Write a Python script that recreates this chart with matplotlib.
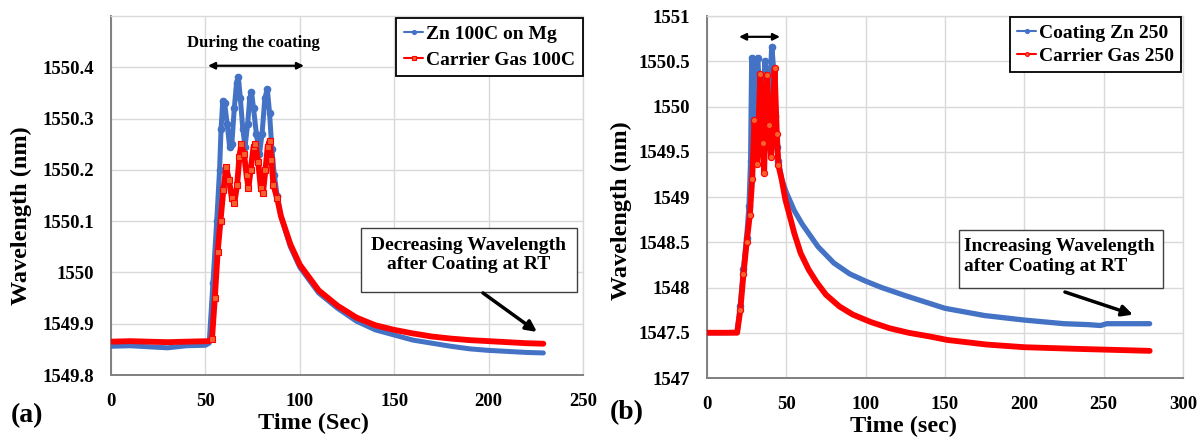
import matplotlib
matplotlib.use("Agg")
import matplotlib.pyplot as plt
from matplotlib.patches import Rectangle
from matplotlib.ticker import FuncFormatter

plt.rcParams['font.family'] = ['Liberation Serif', 'DejaVu Serif']
plt.rcParams['font.weight'] = 'bold'

# ---------------- Panel (a) data ----------------
a_blue_t = [0, 10, 20, 30, 40, 50, 52, 54, 56, 57.5, 58.3, 59.2, 60.2, 61.5, 62.8, 64, 65.3, 66.5,
            67.4, 68.5, 69.8, 71, 72.4, 73.5, 74.4, 75.5, 77, 78.6, 80, 81.5, 82.8, 84, 85.2, 86.5,
            88, 90, 95, 100, 110, 120, 130, 140, 150, 160, 170, 180, 190, 200, 210, 220, 229]
a_blue_w = [1549.856, 1549.857, 1549.855, 1549.853, 1549.857, 1549.858, 1549.862, 1549.98, 1550.10,
            1550.20, 1550.28, 1550.335, 1550.33, 1550.29, 1550.245, 1550.25, 1550.32, 1550.37,
            1550.382, 1550.34, 1550.28, 1550.245, 1550.29, 1550.34, 1550.352, 1550.32, 1550.27,
            1550.23, 1550.27, 1550.34, 1550.358, 1550.31, 1550.24, 1550.19, 1550.15, 1550.11,
            1550.05, 1550.01, 1549.96, 1549.93, 1549.905, 1549.888, 1549.878, 1549.868, 1549.862,
            1549.856, 1549.851, 1549.848, 1549.846, 1549.844, 1549.843]

a_red_t = [0, 10, 20, 30, 40, 52, 53.5, 55, 56.5, 58, 59.5, 61, 62.5, 64, 65.3, 66.8, 68, 69, 70.5,
           71.8, 72.8, 74, 75.5, 76.5, 78, 79.3, 80.5, 81.8, 83, 84, 85, 86, 88, 90, 95, 100, 110,
           120, 130, 140, 150, 160, 170, 180, 190, 200, 210, 220, 229]
a_red_w = [1549.865, 1549.866, 1549.865, 1549.864, 1549.865, 1549.866, 1549.87, 1549.95, 1550.04,
           1550.10, 1550.16, 1550.205, 1550.18, 1550.145, 1550.135, 1550.17, 1550.225, 1550.25,
           1550.23, 1550.19, 1550.165, 1550.20, 1550.245, 1550.25, 1550.215, 1550.165, 1550.155,
           1550.20, 1550.245, 1550.256, 1550.22, 1550.17, 1550.145, 1550.11, 1550.055, 1550.015,
           1549.965, 1549.935, 1549.912, 1549.897, 1549.888, 1549.881, 1549.875, 1549.871,
           1549.868, 1549.866, 1549.864, 1549.862, 1549.861]

a_xticks = [0, 50, 100, 150, 200, 250]
a_yticks = [1549.8, 1549.9, 1550.0, 1550.1, 1550.2, 1550.3, 1550.4]

# ---------------- Panel (b) data ----------------
b_blue_t = [0, 10, 19, 21, 23, 25, 26.5, 27.5, 28.2, 29, 30, 31, 31.9, 33, 34.5, 35.5, 36.5, 38, 39,
            40, 40.8, 42, 43, 44, 45, 47, 50, 55, 60, 70, 80, 90, 100, 110, 125, 150, 175, 200,
            225, 240, 248, 252, 265, 279]
b_blue_w = [1547.50, 1547.50, 1547.505, 1547.80, 1548.20, 1548.55, 1548.90, 1549.40, 1550.54,
            1550.10, 1549.70, 1550.00, 1550.54, 1550.20, 1549.60, 1550.00, 1550.50, 1550.30,
            1549.70, 1550.30, 1550.66, 1550.40, 1549.90, 1549.55, 1549.40, 1549.20, 1549.05,
            1548.85, 1548.70, 1548.45, 1548.27, 1548.15, 1548.07, 1548.00, 1547.91, 1547.77,
            1547.69, 1547.64, 1547.60, 1547.59, 1547.58, 1547.60, 1547.60, 1547.60]

b_red_t = [0, 10, 19, 21, 23, 25, 27, 28.5, 29.9, 31.6, 33.6, 35, 36, 37.7, 39, 40.4, 42.6, 44, 45,
           47, 49.4, 52, 55, 59, 64, 69, 75, 83.5, 92, 103, 115, 127, 140, 151.6, 176, 200, 237, 279]
b_red_w = [1547.50, 1547.50, 1547.50, 1547.75, 1548.15, 1548.50, 1548.80, 1549.20, 1549.85,
           1549.37, 1550.36, 1549.60, 1549.26, 1550.35, 1549.80, 1549.44, 1550.42, 1549.70,
           1549.35, 1549.20, 1548.97, 1548.80, 1548.60, 1548.38, 1548.20, 1548.06, 1547.92,
           1547.79, 1547.70, 1547.62, 1547.55, 1547.50, 1547.46, 1547.42, 1547.37, 1547.34,
           1547.32, 1547.30]

b_xticks = [0, 50, 100, 150, 200, 250, 300]
b_yticks = [1547, 1547.5, 1548, 1548.5, 1549, 1549.5, 1550, 1550.5, 1551]

BLUE = '#4472C4'
RED = '#FF0000'
RED_FILL = '#F4622E'

fig = plt.figure(figsize=(12.04, 4.4), dpi=100)
W, H = 1204, 440


def px_axes(l, t, r, b):
    return fig.add_axes([l / W, (H - b) / H, (r - l) / W, (b - t) / H])


def mark_between(ts, lo, hi):
    return [i for i, t in enumerate(ts) if lo <= t <= hi]


axA = px_axes(111, 16, 583, 375)
axB = px_axes(707, 16, 1183, 378)

fmt = FuncFormatter(lambda v, p: '{:g}'.format(round(v, 4)))


def style(ax):
    ax.grid(True, color='#D9D9D9', lw=1.0)
    ax.set_axisbelow(True)
    for s in ['top', 'right']:
        ax.spines[s].set_color('#D9D9D9')
        ax.spines[s].set_linewidth(1.0)
    for s in ['left', 'bottom']:
        ax.spines[s].set_color('#7F7F7F')
        ax.spines[s].set_linewidth(1.4)
    ax.tick_params(length=0, labelsize=13.5)
    ax.tick_params(axis='y', pad=12)
    ax.tick_params(axis='x', pad=13)
    ax.yaxis.set_major_formatter(fmt)
    for lab in ax.get_xticklabels() + ax.get_yticklabels():
        lab.set_fontweight('bold')


# ---------------- Panel (a) ----------------
axA.plot(a_blue_t, a_blue_w, color=BLUE, lw=3.6, marker='o', ms=4.5, mfc=BLUE, mec=BLUE,
         markevery=mark_between(a_blue_t, 53, 88), label='Zn 100C on Mg', zorder=3,
         solid_joinstyle='round', solid_capstyle='round')
axA.plot(a_red_t, a_red_w, color=RED, lw=4.2, marker='s', ms=4.5, mfc=RED_FILL, mec=RED,
         mew=0.8, markevery=mark_between(a_red_t, 53, 88), label='Carrier Gas 100C', zorder=4,
         solid_joinstyle='round', solid_capstyle='round')
axA.set_xlim(0, 250)
axA.set_ylim(1549.8, 1550.5)
axA.set_xticks(a_xticks)
axA.set_yticks(a_yticks)
style(axA)
axA.set_xlabel('Time (Sec)', fontsize=17.5, fontweight='bold')
axA.xaxis.set_label_coords(0.428, -0.134)
axA.xaxis.label.set_va('center')
axA.set_ylabel('Wavelength (nm)', fontsize=17.5, fontweight='bold')
axA.yaxis.set_label_coords(-0.189, 0.443)
axA.yaxis.label.set_va('center')

legA = axA.legend(loc='upper right', bbox_to_anchor=(1.0, 0.995), borderaxespad=0,
                  frameon=True, fancybox=False, edgecolor='black', framealpha=1,
                  prop={'family': 'Liberation Serif', 'weight': 'bold', 'size': 14},
                  handlelength=1.0, handletextpad=0.15, labelspacing=0.4, borderpad=0.4,
                  markerscale=0.6)
legA.get_frame().set_linewidth(1.3)
for h in legA.get_lines():
    h.set_linewidth(1.5)

axA.annotate('', xy=(51.4, 1550.403), xytext=(102.2, 1550.403),
             arrowprops=dict(arrowstyle='<|-|>', color='black', lw=1.6, mutation_scale=10,
                             shrinkA=0, shrinkB=0))
axA.text(0.301, 0.925, 'During the coating', transform=axA.transAxes, ha='center',
         va='center', fontsize=12, fontweight='bold')

axA.add_patch(Rectangle((0.530, 0.231), 0.457, 0.178, transform=axA.transAxes,
                        facecolor='white', edgecolor='#404040', lw=1.0, zorder=5))
axA.text(0.758, 0.334, 'Decreasing Wavelength\nafter Coating at RT', transform=axA.transAxes,
         ha='center', va='center', fontsize=14, fontweight='bold', linespacing=1.2, zorder=6)
axA.annotate('', xy=(225.6, 1549.884), xytext=(197, 1549.96),
             arrowprops=dict(arrowstyle='-|>', color='black', lw=2.5, mutation_scale=16,
                             shrinkA=0, shrinkB=0), zorder=6)

fig.text(27 / W, (H - 416) / H, '(a)', fontsize=20, fontweight='bold', ha='center', va='center')

# ---------------- Panel (b) ----------------
axB.plot(b_blue_t, b_blue_w, color=BLUE, lw=3.8, marker='o', ms=4.5, mfc=BLUE, mec=BLUE,
         markevery=mark_between(b_blue_t, 20, 46), label='Coating Zn 250', zorder=3,
         solid_joinstyle='round', solid_capstyle='round')
axB.plot(b_red_t, b_red_w, color=RED, lw=4.2, marker='o', ms=4.5, mfc=RED_FILL, mec=RED,
         mew=0.8, markevery=mark_between(b_red_t, 20, 46), label='Carrier Gas 250', zorder=4,
         solid_joinstyle='round', solid_capstyle='round')
axB.set_xlim(0, 300)
axB.set_ylim(1547, 1551)
axB.set_xticks(b_xticks)
axB.set_yticks(b_yticks)
style(axB)
axB.set_xlabel('Time (sec)', fontsize=17.5, fontweight='bold')
axB.xaxis.set_label_coords(0.412, -0.135)
axB.xaxis.label.set_va('center')
axB.set_ylabel('Wavelength (nm)', fontsize=17.5, fontweight='bold')
axB.yaxis.set_label_coords(-0.179, 0.461)
axB.yaxis.label.set_va('center')

legB = axB.legend(loc='upper right', bbox_to_anchor=(0.996, 0.997), borderaxespad=0,
                  frameon=True, fancybox=False, edgecolor='black', framealpha=1,
                  prop={'family': 'Liberation Serif', 'weight': 'bold', 'size': 14},
                  handlelength=1.0, handletextpad=0.15, labelspacing=0.3, borderpad=0.35,
                  markerscale=0.6)
legB.get_frame().set_linewidth(1.3)
for h in legB.get_lines():
    h.set_linewidth(1.5)

axB.annotate('', xy=(20.2, 1550.77), xytext=(46.0, 1550.77),
             arrowprops=dict(arrowstyle='<|-|>', color='black', lw=1.6, mutation_scale=10,
                             shrinkA=0, shrinkB=0))

axB.add_patch(Rectangle((0.529, 0.249), 0.429, 0.160, transform=axB.transAxes,
                        facecolor='white', edgecolor='#404040', lw=1.0, zorder=5))
axB.text(0.540, 0.336, 'Increasing Wavelength\nafter Coating at RT', transform=axB.transAxes,
         ha='left', va='center', fontsize=14, fontweight='bold', linespacing=1.2, zorder=6)
axB.annotate('', xy=(268.5, 1547.70), xytext=(225.6, 1547.95),
             arrowprops=dict(arrowstyle='-|>', color='black', lw=2.5, mutation_scale=16,
                             shrinkA=0, shrinkB=0), zorder=6)

fig.text(627 / W, (H - 413) / H, '(b)', fontsize=20, fontweight='bold', ha='center', va='center')

fig.savefig('out.png', dpi=100)
